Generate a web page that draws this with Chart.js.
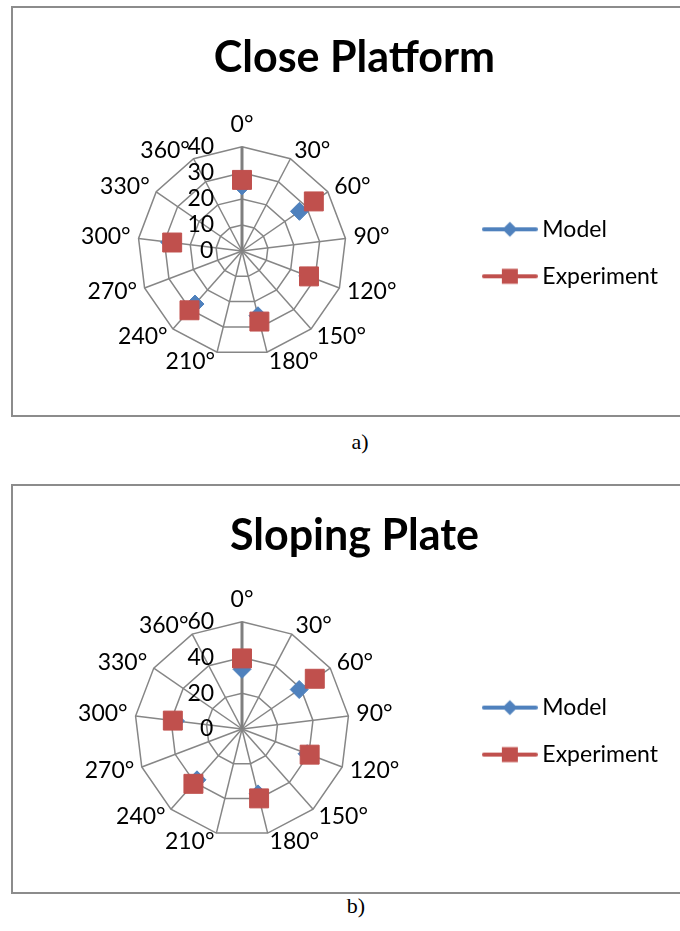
<!DOCTYPE html>
<html>
<head>
<meta charset="utf-8">
<script src="https://cdn.jsdelivr.net/npm/chart.js@4.4.1/dist/chart.umd.min.js"></script>
<style>
  html, body { margin: 0; padding: 0; background: #fff; width: 680px; height: 931px; overflow: hidden; position: relative; }
  .box { position: absolute; left: 11px; width: 690px; border: 2px solid #8c8c8c; background: #fff; }
  #boxA { top: 6px; height: 407px; }
  #boxB { top: 484px; height: 406px; }
  .box canvas { display: block; }
  .caption { position: absolute; width: 80px; text-align: center; font-family: 'Liberation Serif', 'Times New Roman', serif; font-size: 22px; color: #000; }
</style>
</head>
<body>
<div class="box" id="boxA"><canvas id="chartA" width="680" height="407"></canvas></div>
<div class="caption" style="left: 320px; top: 429px;">a)</div>
<div class="box" id="boxB"><canvas id="chartB" width="680" height="406"></canvas></div>
<div class="caption" style="left: 316px; top: 893px;">b)</div>
<script>
// 角度标签
const angleLabels = ['0°', '30°', '60°', '90°', '120°', '150°', '180°', '210°', '240°', '270°', '300°', '330°', '360°']

// Close Platform
const modelA = [25, null, 26.8, null, 27, null, 25.6, null, 27.2, null, 28, null, null]
const experimentA = [27.3, null, 33.5, null, 27.5, null, 27.9, null, 30.4, null, 27, null, null]

// Sloping Plate
const modelB = [33.4, null, 38.9, null, 39, null, 37.4, null, 38, null, 37.5, null, null]
const experimentB = [39.5, null, 49.5, null, 40.5, null, 40, null, 41, null, 39, null, null]

const BLUE = '#4F81BD'
const RED = '#C0504D'
const GRID = '#868686'
const FONT = 'Lato, Calibri, sans-serif'
const TICK_GAP = 29

Chart.defaults.font.family = FONT
Chart.defaults.color = '#000'

// 刻度文字右对齐：用空格把居中的文字推到轴的左边
const measureCtx = document.createElement('canvas').getContext('2d')
measureCtx.font = '23px ' + FONT
const padTick = value => {
  const text = String(value)
  const wd = measureCtx.measureText(text).width
  const ws = measureCtx.measureText(' ').width
  return text + ' '.repeat(Math.round((wd + 2 * TICK_GAP) / ws))
}

// 图例里的线加标记
const legendSample = (color, shape) => {
  const c = document.createElement('canvas')
  c.width = 56
  c.height = 18
  const ctx = c.getContext('2d')
  ctx.strokeStyle = color
  ctx.lineWidth = 4
  ctx.lineCap = 'round'
  ctx.beginPath()
  ctx.moveTo(2, 9)
  ctx.lineTo(54, 9)
  ctx.stroke()
  ctx.fillStyle = color
  ctx.beginPath()
  if (shape === 'diamond') {
    ctx.moveTo(28, 1.5); ctx.lineTo(35.5, 9); ctx.lineTo(28, 16.5); ctx.lineTo(20.5, 9)
  } else {
    ctx.rect(20, 1.5, 16, 15)
  }
  ctx.fill()
  return c
}

const makeChart = (id, title, max, step, model, experiment, titleBottom, bottom) => {
  return new Chart(document.getElementById(id), {
    type: 'radar',
    data: {
      labels: angleLabels,
      datasets: [
        {
          label: 'Model',
          data: model,
          borderColor: BLUE,
          backgroundColor: BLUE,
          borderWidth: 3,
          fill: false,
          spanGaps: false,
          pointStyle: 'rectRot',
          pointRadius: 9,
          pointBorderWidth: 1,
          pointBackgroundColor: BLUE,
          pointBorderColor: BLUE,
          order: 2
        },
        {
          label: 'Experiment',
          data: experiment,
          borderColor: RED,
          backgroundColor: RED,
          borderWidth: 3,
          fill: false,
          spanGaps: false,
          pointStyle: 'rect',
          pointRadius: 13.4,
          pointBorderWidth: 1,
          pointBackgroundColor: RED,
          pointBorderColor: RED,
          order: 1
        }
      ]
    },
    options: {
      responsive: false,
      animation: false,
      events: [],
      layout: { padding: { left: 7, right: 25, top: 0, bottom: bottom } },
      plugins: {
        title: {
          display: true,
          text: '  ' + title,
          font: { size: 43, weight: 'bold' },
          color: '#000',
          padding: { top: 24, bottom: titleBottom }
        },
        legend: {
          position: 'right',
          fullSize: false,
          title: { display: true, text: ' ', font: { size: 10 }, padding: 0 },
          labels: {
            usePointStyle: true,
            pointStyleWidth: 42,
            padding: 24,
            font: { size: 23 },
            color: '#000',
            generateLabels: () => [
              { text: 'Model', pointStyle: legendSample(BLUE, 'diamond'), fillStyle: BLUE, strokeStyle: BLUE, lineWidth: 0, fontColor: '#000', datasetIndex: 0 },
              { text: 'Experiment', pointStyle: legendSample(RED, 'square'), fillStyle: RED, strokeStyle: RED, lineWidth: 0, fontColor: '#000', datasetIndex: 1 }
            ]
          }
        },
        tooltip: { enabled: false }
      },
      scales: {
        r: {
          min: 0,
          max: max,
          // 让 0 的刻度文字也显示
          afterBuildTicks: scale => { scale.min = -1e-6 },
          ticks: {
            stepSize: step,
            showLabelBackdrop: false,
            color: '#000',
            font: { size: 23 },
            callback: padTick
          },
          grid: { color: GRID, lineWidth: 1.5 },
          angleLines: {
            color: ctx => ctx.index === 0 ? '#7f7f7f' : GRID,
            lineWidth: ctx => ctx.index === 0 ? 3 : 1.5
          },
          pointLabels: {
            color: '#000',
            font: { size: 23, lineHeight: 0.1 },
            padding: ctx => ctx.index === 0 ? 8 : -5.5
          }
        }
      }
    }
  })
}

makeChart('chartA', 'Close Platform', 40, 10, modelA, experimentA, 34.4, 39.4)
makeChart('chartB', 'Sloping Plate', 60, 20, modelB, experimentB, 32.4, 35.8)
</script>
</body>
</html>
